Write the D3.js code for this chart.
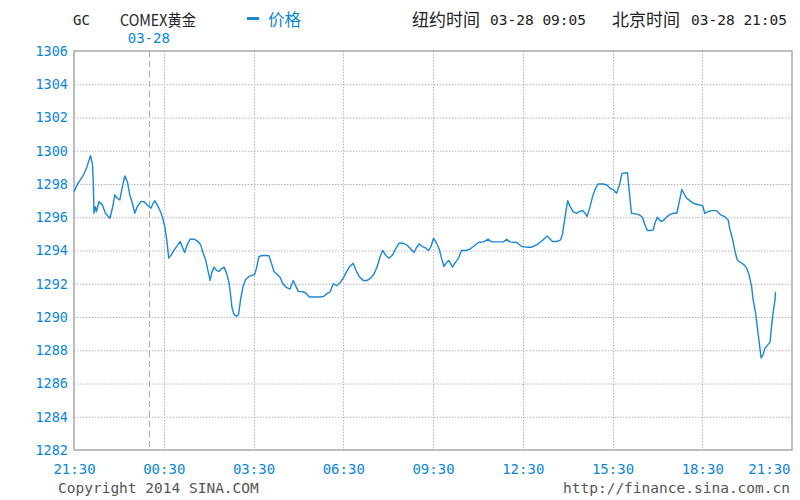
<!DOCTYPE html>
<html><head><meta charset="utf-8">
<script src="https://cdn.jsdelivr.net/npm/d3@7/dist/d3.min.js"></script>
<style>
body{margin:0;background:#fff;}
text{font-family:"DejaVu Sans Mono",monospace;}
</style></head>
<body><svg id="c" width="800" height="500"></svg>
<script>
// minutes since 21:30 (New York / Beijing session start)
const times = [0,8,17,25,33,37,39,40,43,45,50,57,63,72,77,82,87,92,97,102,107,112,117,122,127,134,140,147,154,159,162,167,172,177,182,186,190,195,201,207,213,217,222,227,233,241,249,254,259,264,269,273,276,281,286,291,295,301,306,311,314,317,321,326,330,334,339,344,351,358,362,366,371,378,384,391,396,
401,408,413,418,425,433,440,445,450,460,465,472,493,501,507,513,520,527,533,540,547,553,560,565,572,580,588,595,602,608,614,619,626,632,639,646,652,660,667,674,682,687,692,699,706,711,716,721,727,733,737,742,747,752,759,764,771,777,787,794,801,811,821,831,837,861,868,874,888,898,908,918,928,934,
941,949,955,960,968,976,980,985,990,995,1001,1008,1013,1020,1025,1029,1035,1040,1045,1051,1061,1069,1075,1082,1088,1094,1099,1110,1114,1118,1127,1134,1140,1145,1150,1156,1162,1165,1170,1174,1178,1183,1188,1194,1202,1209,1214,1219,1223,1229,1235,1242,1255,1261,1265,1272,1279,1289,1297,1305,1312,1315,1321,1325,1330,1337,1344,1349,1354,1359,1362,1367,1371,1374,1378,1382,1386,1390,1396,1399,1402,1406,1407];
const prices = [1297.54,1298.04,1298.44,1298.94,1299.70,1299.20,1297.84,1296.24,1296.64,1296.34,1296.94,1296.74,1296.24,1295.94,1296.54,1297.34,1297.14,1297.04,1297.84,1298.48,1298.14,1297.34,1296.84,1296.24,1296.64,1296.94,1296.94,1296.74,1296.54,1296.84,1297.00,1296.74,1296.44,1296.04,1295.44,1294.64,1293.54,1293.74,1294.04,1294.28,1294.54,1294.24,1293.88,1294.34,1294.68,1294.68,1294.54,1294.34,1293.84,1293.44,1292.74,1292.20,1292.64,1293.00,1292.80,1292.74,1292.88,1293.00,1292.64,1292.04,1291.34,1290.54,1290.14,1290.04,1290.14,1291.04,1291.84,1292.24,1292.44,1292.52,1292.54,1292.94,1293.64,1293.70,1293.70,1293.68,1293.24,
1292.74,1292.54,1292.40,1292.04,1291.80,1291.68,1292.20,1291.84,1291.54,1291.52,1291.44,1291.20,1291.20,1291.24,1291.40,1291.48,1292.00,1291.88,1292.04,1292.34,1292.74,1293.04,1293.24,1292.84,1292.44,1292.20,1292.20,1292.34,1292.60,1293.04,1293.64,1294.00,1293.68,1293.54,1293.74,1294.14,1294.44,1294.44,1294.34,1294.14,1293.88,1294.18,1294.40,1294.24,1294.14,1294.00,1294.24,1294.74,1294.44,1294.04,1293.54,1293.04,1293.28,1293.40,1293.00,1293.24,1293.54,1294.00,1294.00,1294.08,1294.24,1294.48,1294.52,1294.68,1294.52,1294.52,1294.68,1294.52,1294.48,1294.24,1294.20,1294.20,1294.34,1294.48,
1294.64,1294.88,1294.68,1294.54,1294.54,1294.64,1295.04,1296.04,1297.00,1296.64,1296.34,1296.24,1296.34,1296.40,1296.24,1296.04,1296.64,1297.24,1297.68,1298.00,1298.00,1297.94,1297.74,1297.64,1297.44,1297.94,1298.64,1298.68,1297.44,1296.24,1296.20,1296.14,1296.00,1295.54,1295.20,1295.20,1295.24,1295.64,1296.00,1295.84,1295.74,1295.84,1296.00,1296.14,1296.24,1296.24,1296.94,1297.68,1297.44,1297.14,1297.00,1296.84,1296.74,1296.68,1296.24,1296.34,1296.40,1296.40,1296.14,1296.04,1295.84,1295.34,1294.64,1294.04,1293.44,1293.28,1293.14,1292.94,1292.54,1291.84,1291.04,1290.24,1289.24,1288.54,1287.54,1287.74,1288.14,1288.28,1288.48,1289.44,1290.24,1291.04,1291.52];
const xTickMinutes = [0,180,360,540,720,900,1080,1260,1440];
const xTickLabels = ["21:30","00:30","03:30","06:30","09:30","12:30","15:30","18:30","21:30"];
const yTicks = [1282,1284,1286,1288,1290,1292,1294,1296,1298,1300,1302,1304,1306];
const dateBreakMinute = 150;
const dateBreakLabel = "03-28";
const symbol = "GC";
const title = "COMEX黄金";
const legendLabel = "价格";
const nyLabel = "纽约时间", nyTime = "03-28 09:05";
const bjLabel = "北京时间", bjTime = "03-28 21:05";
const copyright = "Copyright 2014 SINA.COM";
const url = "http://finance.sina.com.cn";

const blue = "#1a87d6", textBlue = "#0a86d8", gridC = "#b4b4b4";
const svg = d3.select("#c");
const L = 74, R = 792, T = 51, B = 450;
const x = d3.scaleLinear().domain([0,1440]).range([L,R]);
const y = d3.scaleLinear().domain([1282,1306]).range([B,T]);

// horizontal grid
svg.append("g").selectAll("line").data(yTicks.slice(1,-1)).join("line")
  .attr("x1",L).attr("x2",R).attr("y1",d=>y(d)+0.5).attr("y2",d=>y(d)+0.5)
  .attr("stroke",gridC).attr("stroke-width",1).attr("stroke-dasharray","1.5,1.5");
// vertical grid
svg.append("g").selectAll("line").data(xTickMinutes.slice(1,-1)).join("line")
  .attr("x1",d=>Math.round(x(d))+0.5).attr("x2",d=>Math.round(x(d))+0.5).attr("y1",T).attr("y2",B)
  .attr("stroke",gridC).attr("stroke-width",1).attr("stroke-dasharray","1.5,1.5");
// date break
svg.append("line").attr("x1",Math.round(x(dateBreakMinute))+0.5).attr("x2",Math.round(x(dateBreakMinute))+0.5)
  .attr("y1",T).attr("y2",B).attr("stroke","#aaa").attr("stroke-width",1).attr("stroke-dasharray","6,4");
svg.append("text").attr("x",x(dateBreakMinute)).attr("y",43).attr("text-anchor","middle")
  .attr("font-size",14).attr("fill",textBlue).text(dateBreakLabel);

// border
svg.append("rect").attr("x",L).attr("y",T).attr("width",R-L).attr("height",B-T)
  .attr("fill","none").attr("stroke","#a8a8a8").attr("stroke-width",1.5);

// line
const line = d3.line().x((d,i)=>x(times[i])).y(d=>y(d));
svg.append("path").datum(prices).attr("d",line).attr("fill","none")
  .attr("stroke",blue).attr("stroke-width",1.4).attr("stroke-linejoin","round");

// y axis labels
const yAxis = d3.axisLeft(y).tickValues(yTicks).tickFormat(d3.format("d")).tickSize(0).tickPadding(6);
const ya = svg.append("g").attr("transform",`translate(${L},0)`).call(yAxis);
ya.select(".domain").remove();
ya.selectAll("text").attr("font-family","DejaVu Sans Mono").attr("font-size",13.5).attr("fill",textBlue);

// x axis labels
const xAxis = d3.axisBottom(x).tickValues(xTickMinutes).tickFormat((d,i)=>xTickLabels[i]).tickSize(0).tickPadding(14);
const xa = svg.append("g").attr("transform",`translate(0,${B})`).call(xAxis);
xa.select(".domain").remove();
xa.selectAll("text").attr("font-family","DejaVu Sans Mono").attr("font-size",14).attr("fill",textBlue)
  .attr("text-anchor",(d,i)=> i===xTickMinutes.length-1 ? "end" : "middle")
  .attr("dx",(d,i)=> i===xTickMinutes.length-1 ? -2 : 0);

// header
const cjk = '"Noto Sans CJK SC",sans-serif';
svg.append("text").attr("x",73).attr("y",25).attr("font-size",14).attr("fill","#222").text(symbol);
svg.append("text").attr("x",120).attr("y",26).attr("font-size",16).attr("fill","#222")
  .style("font-family",cjk).attr("textLength",76).attr("lengthAdjust","spacingAndGlyphs").text(title);
svg.append("rect").attr("x",247).attr("y",17).attr("width",12).attr("height",3).attr("fill",blue);
svg.append("text").attr("x",268).attr("y",26).attr("font-size",16.5).attr("fill",textBlue).style("font-family",cjk).text(legendLabel);
svg.append("text").attr("x",412).attr("y",26).attr("font-size",17).attr("fill","#222").style("font-family",cjk).text(nyLabel);
svg.append("text").attr("x",490).attr("y",25).attr("font-size",14.5).attr("fill","#222").text(nyTime);
svg.append("text").attr("x",612).attr("y",26).attr("font-size",17).attr("fill","#222").style("font-family",cjk).text(bjLabel);
svg.append("text").attr("x",691).attr("y",25).attr("font-size",14.5).attr("fill","#222").text(bjTime);

// footer
svg.append("text").attr("x",58).attr("y",493).attr("font-size",14.5).attr("fill","#555").text(copyright);
svg.append("text").attr("x",790).attr("y",493).attr("text-anchor","end").attr("font-size",14.5).attr("fill","#555").text(url);
</script></body></html>
